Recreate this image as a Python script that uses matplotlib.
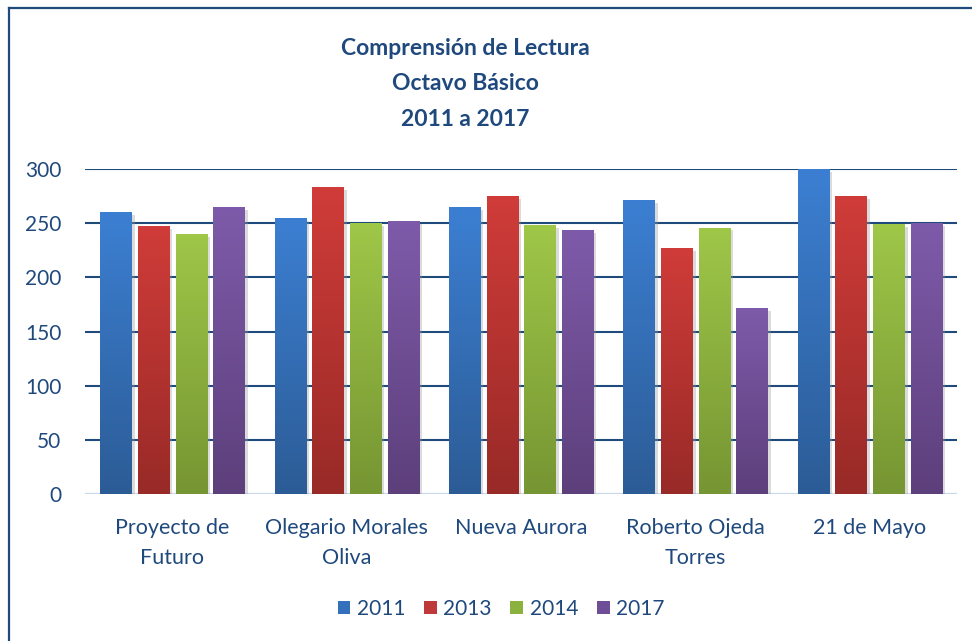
import numpy as np
import matplotlib
matplotlib.use("Agg")
import matplotlib.pyplot as plt
from matplotlib.patches import Rectangle
from matplotlib.lines import Line2D
from matplotlib.colors import LinearSegmentedColormap
import matplotlib.patheffects as pe

plt.rcParams['font.family'] = ['Lato', 'DejaVu Sans']

categories = ["Proyecto de\nFuturo", "Olegario Morales\nOliva", "Nueva Aurora",
              "Roberto Ojeda\nTorres", "21 de Mayo"]
years = ["2011", "2013", "2014", "2017"]
v2011 = [260, 255, 265, 271, 300]
v2013 = [247, 283, 275, 227, 275]
v2014 = [240, 250, 248, 246, 249]
v2017 = [265, 252, 244, 172, 250]
yticks = [0, 50, 100, 150, 200, 250, 300]

series = [v2011, v2013, v2014, v2017]
top_colors = ["#3C7FD2", "#D03C39", "#9FC748", "#7E5BAA"]
bot_colors = ["#2C5C96", "#982A27", "#769533", "#5D3F7B"]
mid_colors = ["#3570BC", "#C0393A", "#8BB23F", "#6F4E98"]
text_color = "#1F497D"

fig = plt.figure(figsize=(9.72, 6.41), dpi=100)
ax = fig.add_axes([85/972, 1-494.3/641, 872/972, 325.3/641])

n = len(categories)
x = np.arange(n)
pitch = 0.216
width = 0.178
offsets = (np.arange(4) - 1.5) * pitch

grad = np.linspace(0, 1, 256).reshape(-1, 1)
for i, vals in enumerate(series):
    cmap = LinearSegmentedColormap.from_list(f"g{i}", [bot_colors[i], top_colors[i]])
    bars = ax.bar(x + offsets[i], vals, width, color=mid_colors[i], zorder=3,
                  path_effects=[pe.SimplePatchShadow(offset=(2.5, -2), shadow_rgbFace='#9a9a9a', alpha=0.35), pe.Normal()])
    for b in bars:
        bx, bw, bh = b.get_x(), b.get_width(), b.get_height()
        im = ax.imshow(grad, cmap=cmap, origin='lower', aspect='auto',
                       extent=[bx, bx + bw, 0, bh], zorder=4, interpolation='bilinear')
        im.set_clip_path(b)

ax.set_xlim(-0.5, n - 0.5)
ax.set_ylim(0, 300)
ax.set_yticks(yticks)
ax.set_yticklabels([str(t) for t in yticks])
ax.set_xticks(x)
ax.set_xticklabels(categories, linespacing=1.62, fontsize=15.5)
for s in ax.spines.values():
    s.set_visible(False)
ax.tick_params(axis='both', length=0, colors=text_color)
ax.tick_params(axis='y', pad=17, labelsize=15)
ax.tick_params(axis='x', pad=17)
for t in yticks[1:]:
    ax.axhline(t, color="#1F4A7C", lw=1.5, zorder=1)
ax.axhline(0, color="#C9D7EA", lw=1.6, zorder=2)
ax.set_facecolor("white")

fig.text(465/972, 1-84/641, "Comprensión de Lectura\nOctavo Básico\n2011 a 2017",
         ha='center', va='center', fontsize=16.5, fontweight='bold', color=text_color,
         linespacing=1.85)

handles = [Rectangle((0, 0), 1, 1, facecolor=c) for c in mid_colors]
leg = fig.legend(handles, years, loc='center', bbox_to_anchor=(501/972, 1-609/641), ncol=4,
                 frameon=False, fontsize=15, handlelength=0.62, handleheight=0.62,
                 handletextpad=0.3, columnspacing=0.9, labelcolor=text_color)

fig.add_artist(Line2D([8.5/972, 8.5/972], [0, 1-8/641], color="#1F4A7C", lw=1.6, transform=fig.transFigure))
fig.add_artist(Line2D([8.5/972, 1], [1-8/641, 1-8/641], color="#1F4A7C", lw=1.6, transform=fig.transFigure))

fig.savefig("out.png", dpi=100, facecolor="white")
